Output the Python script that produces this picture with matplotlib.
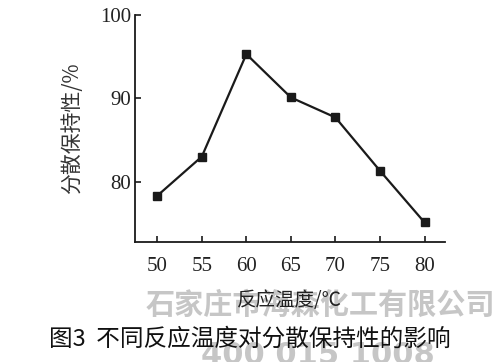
import matplotlib.pyplot as plt

# data
temp = [50, 55, 60, 65, 70, 75, 80]
retention = [78.3, 83.0, 95.3, 90.1, 87.7, 81.3, 75.1]
xticks = [50, 55, 60, 65, 70, 75, 80]
yticks = [80, 90, 100]

cjk = ['Noto Sans CJK SC', 'DejaVu Sans']
num_font = 'Liberation Serif'

fig = plt.figure(figsize=(5, 3.62), dpi=100)
ax = fig.add_axes([0.27, 0.3315, 0.62, 0.6271])
ax.set_facecolor('none')

ax.plot(temp, retention, color='#1a1a1a', lw=1.6, marker='s', ms=6, zorder=3)

ax.set_xlim(47.5, 82.3)
ax.set_ylim(72.75, 100)
ax.set_xticks(xticks)
ax.set_yticks(yticks)
ax.spines['top'].set_visible(False)
ax.spines['right'].set_visible(False)
for s in ['left', 'bottom']:
    ax.spines[s].set_linewidth(1.3)
    ax.spines[s].set_color('#1a1a1a')
ax.tick_params(direction='in', length=4, width=1.2, color='#1a1a1a')
ax.tick_params(axis='x', pad=11)
ax.tick_params(axis='y', pad=3)
for lab in ax.get_xticklabels() + ax.get_yticklabels():
    lab.set_fontfamily(num_font)
    lab.set_fontsize(15)
    lab.set_color('#222222')

ax.set_ylabel('分散保持性/%', family=cjk, fontsize=15, fontweight='light',
              color='#333333', labelpad=12)
ax.set_xlabel('反应温度/℃', family=cjk, fontsize=14, fontweight='light',
              color='#222222', labelpad=10)

# watermark text, kept behind everything else
fig.text(0.64, 0.158, '石家庄市海森化工有限公司', family=cjk, fontsize=21,
         fontweight='bold', color='#c6c6c6', ha='center', va='center', zorder=-5)
fig.text(0.635, 0.058, '400 015 1008', family='DejaVu Sans', fontsize=22,
         fontweight='bold', color='#c6c6c6', ha='center', va='top', zorder=-5)

fig.text(0.5, 0.062, '图3  不同反应温度对分散保持性的影响', family=cjk, fontsize=17,
         fontweight='medium', color='#111111', ha='center', va='center', zorder=5)

fig.savefig('out.png', dpi=100)
